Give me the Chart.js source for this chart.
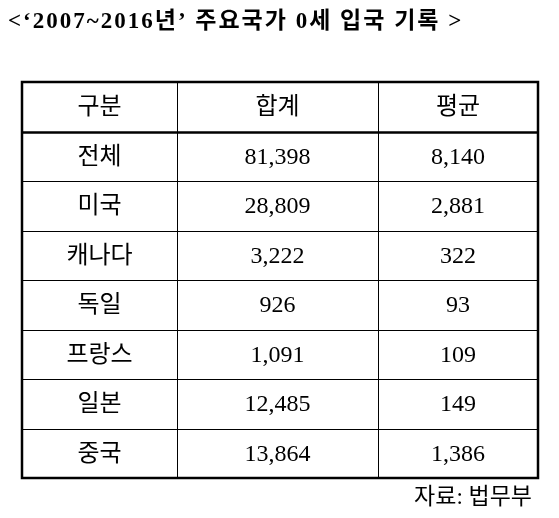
<!DOCTYPE html>
<html><head><meta charset="utf-8">
<script src="https://cdn.jsdelivr.net/npm/chart.js@4"></script>
<style>html,body{margin:0;padding:0;background:#fff}#c{display:block}</style>
</head><body>
<canvas id="c" width="559" height="518"></canvas>
<script>
const titleText = "<‘2007~2016년’ 주요국가 0세 입국 기록 >";
const sourceText = "자료: 법무부";
const headers = ["구분", "합계", "평균"];
const countries = ["전체", "미국", "캐나다", "독일", "프랑스", "일본", "중국"];
const totals = ["81,398", "28,809", "3,222", "926", "1,091", "12,485", "13,864"];
const averages = ["8,140", "2,881", "322", "93", "109", "149", "1,386"];
const colEdges = [0, 155, 356, 516];

const FONT = '"Liberation Serif", "Noto Sans CJK KR", serif';
const rows = ["header", ...countries];

const tablePlugin = {
  id: 'table',
  afterDraw(chart) {
    const ctx = chart.ctx, x = chart.scales.x, y = chart.scales.y;
    const ca = chart.chartArea;
    const rowH = (ca.bottom - ca.top) / rows.length;
    const cx = colEdges.map(v => x.getPixelForValue(v));
    ctx.save();
    ctx.fillStyle = '#000'; ctx.strokeStyle = '#000';
    ctx.font = 'bold 23px ' + FONT; ctx.textAlign = 'left'; ctx.textBaseline = 'middle';
    ctx.letterSpacing = '2px';
    ctx.fillText(titleText, 8, 22);
    ctx.letterSpacing = '0px';
    ctx.textAlign = 'right'; ctx.font = '23px ' + FONT;
    ctx.fillText(sourceText, 532, 498);
    for (let i = 1; i < rows.length; i++) {
      const yy = Math.round(y.getPixelForValue(i) - rowH / 2) + 0.5;
      ctx.lineWidth = i === 1 ? 2.5 : 1;
      ctx.beginPath(); ctx.moveTo(cx[0], yy); ctx.lineTo(cx[3], yy); ctx.stroke();
    }
    ctx.lineWidth = 1;
    for (let j = 1; j < 3; j++) {
      const xx = Math.round(cx[j]) + 0.5;
      ctx.beginPath(); ctx.moveTo(xx, ca.top); ctx.lineTo(xx, ca.bottom); ctx.stroke();
    }
    ctx.lineWidth = 2.5;
    ctx.strokeRect(cx[0], ca.top, cx[3] - cx[0], ca.bottom - ca.top);
    ctx.font = '24px ' + FONT; ctx.textAlign = 'center'; ctx.textBaseline = 'middle';
    rows.forEach((r, i) => {
      const yy = y.getPixelForValue(i) + 1;
      const cells = i === 0 ? headers : [countries[i-1], totals[i-1], averages[i-1]];
      cells.forEach((t, j) => ctx.fillText(t, (cx[j] + cx[j+1]) / 2, yy));
    });
    ctx.restore();
  }
};

new Chart(document.getElementById('c'), {
  type: 'bar',
  data: { labels: rows, datasets: [{ data: [], backgroundColor: 'transparent' }] },
  options: {
    responsive: false, animation: false, indexAxis: 'y',
    layout: { padding: { left: 22, right: 21, top: 82, bottom: 40 } },
    plugins: { legend: { display: false }, tooltip: { enabled: false } },
    scales: {
      x: { type: 'linear', min: 0, max: 516, display: false },
      y: { type: 'category', offset: true, display: false }
    }
  },
  plugins: [tablePlugin]
});
</script>
</body></html>
